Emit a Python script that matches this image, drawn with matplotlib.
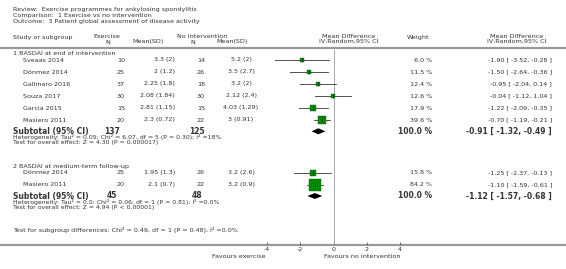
import matplotlib.pyplot as plt
import numpy as np

plt.rcParams['font.family'] = 'DejaVu Sans'
plt.rcParams['axes.unicode_minus'] = False

# data
g1_studies = ['Sveaas 2014', 'Dönmez 2014', 'Gallinaro 2016', 'Souza 2017', 'Garcia 2015', 'Masiero 2011']
g1_ex_n = [10, 25, 37, 30, 15, 20]
g1_ex_msd = ['3.3 (2)', '2 (1.2)', '2.25 (1.8)', '2.08 (1.84)', '2.81 (1.15)', '2.3 (0.72)']
g1_no_n = [14, 26, 18, 30, 15, 22]
g1_no_msd = ['5.2 (2)', '3.5 (2.7)', '3.2 (2)', '2.12 (2.4)', '4.03 (1.29)', '3 (0.91)']
g1_weight = [6.0, 11.5, 12.4, 12.6, 17.9, 39.6]
g1_md = [-1.90, -1.50, -0.95, -0.04, -1.22, -0.70]
g1_lo = [-3.52, -2.64, -2.04, -1.12, -2.09, -1.19]
g1_hi = [-0.28, -0.36, 0.14, 1.04, -0.35, -0.21]
g1_total = (137, 125, -0.91, -1.32, -0.49)

g2_studies = ['Dönmez 2014', 'Masiero 2011']
g2_ex_n = [25, 20]
g2_ex_msd = ['1.95 (1.3)', '2.1 (0.7)']
g2_no_n = [26, 22]
g2_no_msd = ['3.2 (2.6)', '3.2 (0.9)']
g2_weight = [15.8, 84.2]
g2_md = [-1.25, -1.10]
g2_lo = [-2.37, -1.59]
g2_hi = [-0.13, -0.61]
g2_total = (45, 48, -1.12, -1.57, -0.68)

ticks = [-4, -2, 0, 2, 4]

W, H = 566, 269
fig = plt.figure(figsize=(W / 100, H / 100), dpi=100)
bg = fig.add_axes([0, 0, 1, 1])
bg.set_xlim(0, W)
bg.set_ylim(H, 0)
bg.axis('off')

# forest axes: zero at px 333.5, 16.6 px per unit
zero_px, ppu = 333.5, 16.6
xl, xr = -5.0, 5.0
fx = fig.add_axes([(zero_px + xl * ppu) / W, 0, (xr - xl) * ppu / W, 1])
fx.set_xlim(xl, xr)
fx.set_ylim(H, 0)
fx.patch.set_alpha(0)
for s in ['top', 'left', 'right']:
    fx.spines[s].set_visible(False)
fx.spines['bottom'].set_position(('data', 244.5))
fx.spines['bottom'].set_visible(False)
fx.set_yticks([])
fx.set_xticks(ticks)
fx.set_xticklabels([str(t) for t in ticks])
fx.tick_params(axis='x', direction='in', length=2, width=0.6, color='#555555',
               labelsize=4.5, labelcolor='#333333', pad=1.5)

fs = 4.6
fsb = 5.5
tc = '#333333'


def txt(x, y, s, ha='left', bold=False, size=None, color=tc):
    bg.text(x, y, s, ha=ha, va='center', fontsize=size or (fsb if bold else fs),
            fontweight='bold' if bold else 'normal', color=color)


# title block
txt(13, 10, 'Review:  Exercise programmes for ankylosing spondylitis')
txt(13, 15.6, 'Comparison:  1 Exercise vs no intervention')
txt(13, 21.2, 'Outcome:  3 Patient global assessment of disease activity')

# header
txt(13, 37.5, 'Study or subgroup')
txt(107, 37, 'Exercise', ha='center')
txt(108, 42, 'N', ha='center')
txt(148, 42, 'Mean(SD)', ha='center')
txt(202, 37, 'No intervention', ha='center')
txt(193, 42, 'N', ha='center')
txt(232, 42, 'Mean(SD)', ha='center')
txt(349, 37, 'Mean Difference', ha='center')
txt(349, 41.5, 'IV,Random,95% CI', ha='center')
txt(418, 38, 'Weight', ha='center')
txt(517, 37, 'Mean Difference', ha='center')
txt(517, 41.5, 'IV,Random,95% CI', ha='center')

bg.plot([0, W], [47.5, 47.5], color='#9a9a9a', lw=1.6, solid_capstyle='butt')
bg.plot([0, W], [244.5, 244.5], color='#9a9a9a', lw=1.6, solid_capstyle='butt')
fx.plot([0, 0], [50, 244], color='#9a9a9a', lw=0.6)


def group(title, y_title, y_first, studies, ex_n, ex_msd, no_n, no_msd, weight, md, lo, hi, total,
          het, test):
    txt(13, y_title, title)
    ys = y_first + 12.0 * np.arange(len(studies))
    for i, y in enumerate(ys):
        txt(23, y, studies[i])
        txt(125, y, str(ex_n[i]), ha='right')
        txt(175, y, ex_msd[i], ha='right')
        txt(205, y, str(no_n[i]), ha='right')
        txt(241, y, no_msd[i], ha='center')
        txt(432, y, f'{weight[i]:.1f} %', ha='right')
        txt(552, y, f'{md[i]:.2f} [ {lo[i]:.2f}, {hi[i]:.2f} ]', ha='right')
        fx.plot([lo[i], hi[i]], [y, y], color='#333333', lw=0.6, zorder=2)
        side = max(1.3 * np.sqrt(weight[i]), 3.0)
        fx.plot(md[i], y, marker='s', ms=side * 0.72, color='#008a00', mec='#006400',
                mew=0.3, zorder=3)
        fx.plot(md[i], y, marker='|', ms=2.2, color='#222222', mew=0.5, zorder=4)
    yt = ys[-1] + 11.3
    en, nn, tmd, tlo, thi = total
    txt(13, yt, 'Subtotal (95% CI)', bold=True)
    txt(112, yt, str(en), ha='center', bold=True)
    txt(197, yt, str(nn), ha='center', bold=True)
    txt(432, yt, '100.0 %', ha='right', bold=True)
    txt(552, yt, f'{tmd:.2f} [ {tlo:.2f}, {thi:.2f} ]', ha='right', bold=True)
    fx.fill([tlo, tmd, thi, tmd], [yt, yt - 3, yt, yt + 3], color='black', lw=0, zorder=3)
    txt(13, yt + 6.0, het, size=4.4)
    txt(13, yt + 11.0, test, size=4.4)


group('1 BASDAI at end of intervention', 53.7, 60.0,
      g1_studies, g1_ex_n, g1_ex_msd, g1_no_n, g1_no_msd, g1_weight, g1_md, g1_lo, g1_hi, g1_total,
      'Heterogeneity: Tau² = 0.05; Chi² = 6.07, df = 5 (P = 0.30); I² =18%',
      'Test for overall effect: Z = 4.30 (P = 0.000017)')
group('2 BASDAI at medium-term follow-up', 166.5, 172.7,
      g2_studies, g2_ex_n, g2_ex_msd, g2_no_n, g2_no_msd, g2_weight, g2_md, g2_lo, g2_hi, g2_total,
      'Heterogeneity: Tau² = 0.0; Chi² = 0.06, df = 1 (P = 0.81); I² =0.0%',
      'Test for overall effect: Z = 4.94 (P < 0.00001)')

txt(13, 230, 'Test for subgroup differences: Chi² = 0.49, df = 1 (P = 0.48), I² =0.0%')
txt(266, 257, 'Favours exercise', ha='right', size=4.6)
txt(324, 257, 'Favours no intervention', ha='left', size=4.6)

fig.savefig('out.png', dpi=100)
